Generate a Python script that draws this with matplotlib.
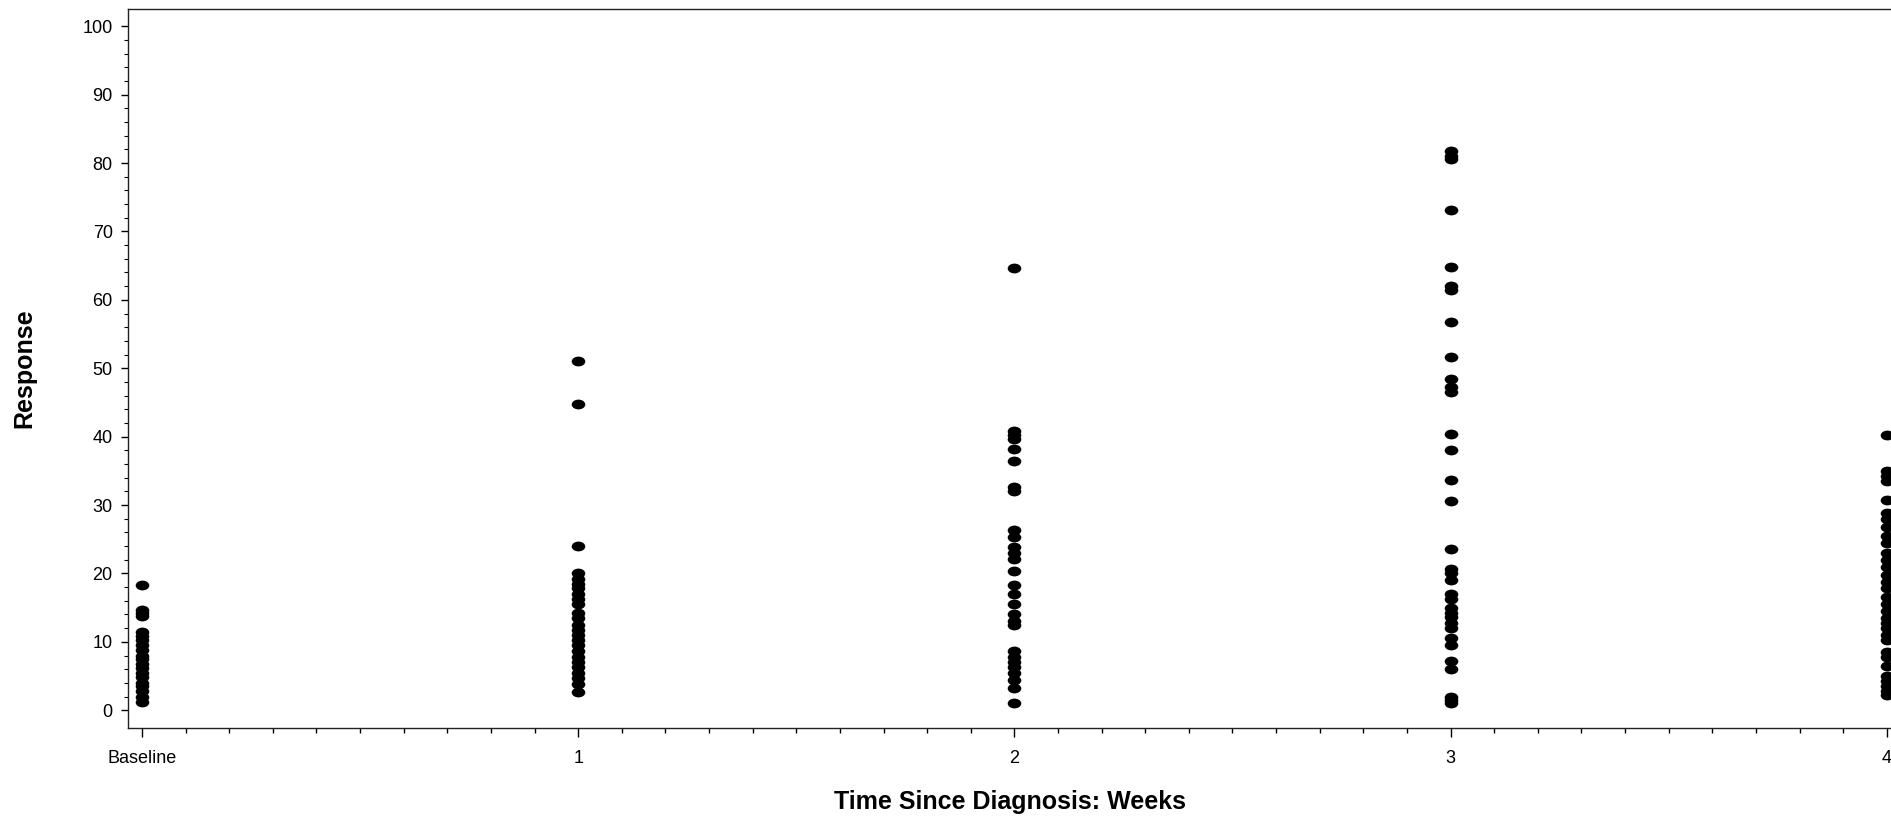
import numpy as np
import matplotlib
matplotlib.use("Agg")
import matplotlib.pyplot as plt
from matplotlib.path import Path
from matplotlib.ticker import FixedLocator

plt.rcParams['font.family'] = ['Liberation Sans', 'DejaVu Sans']

# ---- data ----
tick_positions = [0, 1, 2, 3, 4]
tick_labels = ["Baseline", "1", "2", "3", "4"]

week0 = [18.3, 14.6, 14.2, 13.8, 11.5, 10.8, 10.2, 9.5, 8.8, 8.0, 7.5, 6.8, 6.2,
         5.5, 4.8, 4.0, 3.5, 2.8, 2.0, 1.2]
week1 = [51.0, 44.7, 24.0, 20.0, 19.2, 18.5, 17.8, 17.0, 16.3, 15.5, 14.2, 13.5,
         12.5, 11.8, 11.0, 10.2, 9.5, 8.7, 7.8, 7.0, 6.3, 5.5, 4.7, 3.9, 2.7]
week2 = [64.6, 40.8, 40.2, 39.6, 38.2, 36.5, 32.6, 32.1, 26.3, 25.3, 23.8, 23.0,
         22.1, 20.3, 18.3, 17.0, 15.6, 14.0, 13.0, 12.4, 8.6, 7.8, 7.0, 6.3,
         5.4, 4.4, 3.3, 1.0]
week3 = [81.7, 81.0, 80.6, 73.2, 64.8, 62.0, 61.4, 56.7, 51.6, 48.5, 47.2, 46.6,
         40.4, 38.1, 33.7, 30.6, 23.5, 20.7, 20.1, 19.0, 17.0, 16.3, 15.0, 14.2,
         13.6, 12.8, 12.0, 10.5, 9.6, 7.2, 6.0, 2.0, 1.5, 1.1]
week4 = [40.3, 35.0, 34.2, 33.5, 30.8, 28.8, 28.0, 26.8, 25.5, 24.5, 23.0, 22.0,
         21.0, 19.8, 18.8, 17.8, 16.5, 15.5, 14.5, 13.5, 12.8, 12.0, 11.0, 10.2,
         8.5, 7.8, 6.5, 5.0, 4.2, 3.5, 2.8, 2.2]
series = [week0, week1, week2, week3, week4]

# ---- figure ----
fig = plt.figure(figsize=(18.91, 8.18), dpi=100)
ax = fig.add_axes([128 / 1891, 1 - 728 / 818, 1 - 128 / 1891, (728 - 8.5) / 818])

# ellipse marker (wider than tall)
circ = Path.unit_circle()
ell = Path(circ.vertices * np.array([1.0, 0.72]), circ.codes)

for xv, vals in zip(tick_positions, series):
    ax.plot([xv] * len(vals), vals, linestyle='none', marker=ell,
            markersize=9.8, color='black', markeredgewidth=0)

ax.set_xlim(-0.032, 4.0096)
ax.set_ylim(-2.6, 102.6)

ax.set_xticks(tick_positions)
ax.set_xticklabels(tick_labels)
ax.xaxis.set_minor_locator(FixedLocator(np.round(np.arange(0, 4.001, 0.1), 2)))
ax.set_yticks(np.arange(0, 101, 10))
ax.yaxis.set_minor_locator(FixedLocator(np.arange(0, 101, 2)))

ax.tick_params(axis='x', which='major', length=6.5, width=1.0, pad=9, labelsize=13)
ax.tick_params(axis='x', which='minor', length=3.5, width=1.0)
ax.tick_params(axis='y', which='major', length=5, width=1.0, pad=6, labelsize=13)
ax.tick_params(axis='y', which='minor', length=3, width=0.8)

for side in ['left', 'bottom', 'top']:
    ax.spines[side].set_linewidth(1.0)
    ax.spines[side].set_color('#222222')
ax.spines['right'].set_visible(False)

ax.set_xlabel("Time Since Diagnosis: Weeks", fontsize=18, fontweight='bold')
ax.xaxis.set_label_coords(0.5, -74 / 719.5)
ax.xaxis.label.set_va('center')
ax.set_ylabel("Response", fontsize=18, fontweight='bold')
ax.yaxis.set_label_coords(-104 / 1763, 0.5)
ax.yaxis.label.set_va('center')

fig.savefig("out.png", dpi=100)
